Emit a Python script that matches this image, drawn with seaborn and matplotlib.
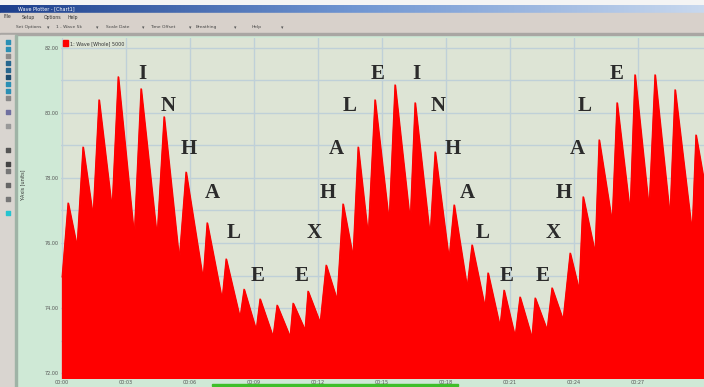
import numpy as np
import pandas as pd
import seaborn as sns
import matplotlib.pyplot as plt
from matplotlib.patches import Rectangle

# breathing wave vertices (seconds, units)
time_s = [0.00, 0.28, 0.70, 0.98, 1.45, 1.73, 2.34, 2.63, 3.38, 3.70,
          4.45, 4.78, 5.49, 5.81, 6.61, 6.80, 7.50, 7.69, 8.34, 8.53,
          9.10, 9.28, 9.89, 10.08, 10.69, 10.83, 11.39, 11.53, 12.10, 12.38,
          12.89, 13.17, 13.64, 13.88, 14.35, 14.67, 15.33, 15.61, 16.32, 16.55,
          17.25, 17.49, 18.14, 18.38, 18.99, 19.22, 19.83, 19.97, 20.53, 20.72,
          21.24, 21.47, 22.03, 22.18, 22.74, 22.97, 23.49, 23.82, 24.24, 24.43,
          24.99, 25.18, 25.79, 26.02, 26.63, 26.86, 27.52, 27.80, 28.50, 28.74,
          29.54, 29.72, 30.10]
wave = [74.95, 77.23, 75.88, 78.95, 76.80, 80.40, 77.02, 81.11, 76.18, 80.74,
        76.15, 79.88, 75.48, 78.18, 74.86, 76.62, 74.25, 75.51, 73.69, 74.58,
        73.32, 74.28, 73.11, 74.09, 73.11, 74.15, 73.32, 74.52, 73.54, 75.32,
        74.25, 77.20, 75.57, 78.95, 76.18, 80.40, 76.62, 80.86, 76.62, 80.31,
        76.18, 78.80, 75.48, 77.17, 74.62, 75.94, 74.00, 75.08, 73.42, 74.55,
        73.11, 74.34, 73.08, 74.31, 73.32, 74.62, 73.63, 75.69, 74.55, 77.42,
        75.69, 79.17, 76.62, 80.31, 76.92, 81.17, 77.02, 81.17, 76.80, 80.71,
        76.31, 79.32, 77.90]

# annotation letters
letters = list("INHALEEXHALEINHALEEXHALE")
letter_t = [3.75, 4.97, 5.95, 7.03, 8.06, 9.19, 11.25, 11.81, 12.47, 12.85, 13.50, 14.81,
            16.60, 17.63, 18.33, 18.99, 19.74, 20.82, 22.55, 23.02, 23.53, 24.14, 24.52, 26.02]
letter_v = [81.20, 80.20, 78.90, 77.54, 76.31, 74.98, 74.98, 76.31, 77.54, 78.90, 80.20, 81.20,
            81.20, 80.20, 78.90, 77.54, 76.31, 74.98, 74.98, 76.31, 77.54, 78.90, 80.20, 81.20]

x_ticks = [0, 3, 6, 9, 12, 15, 18, 21, 24, 27]
x_labels = ['00:00', '00:03', '00:06', '00:09', '00:12', '00:15', '00:18', '00:21', '00:24', '00:27']
y_ticks = [72, 74, 76, 78, 80, 82]
y_labels = ['72.00', '74.00', '76.00', '78.00', '80.00', '82.00']

menu_items = ['File', 'Setup', 'Options', 'Help']
tool_items = ['Set Options', '1 - Wave 5k', 'Scale Date', 'Time Offset', 'Breathing', 'Help']

df = pd.DataFrame({'time': time_s, 'wave': wave})

sns.set_style('white')
W, H = 704, 387
fig = plt.figure(figsize=(W / 100, H / 100), dpi=100)

# --- window chrome drawn in pixel space ---
bg = fig.add_axes([0, 0, 1, 1], zorder=-1)
bg.set_xlim(0, W)
bg.set_ylim(H, 0)
bg.axis('off')
bg.add_patch(Rectangle((0, 0), W, H, color='#cfe9d6'))
bg.add_patch(Rectangle((0, 0), W, 5, color='#f4f4f4'))
grad = np.linspace(0, 1, 256).reshape(1, -1)
bg.imshow(grad, extent=(0, W, 13, 5), cmap=sns.blend_palette(['#1d3f8c', '#6f95d2', '#c8d8ee'], as_cmap=True),
          aspect='auto', zorder=1)
bg.add_patch(Rectangle((0, 13), W, 20, color='#d8d1cb', zorder=1))
bg.add_patch(Rectangle((0, 33), W, 2, color='#a9a6a3', zorder=1))
bg.add_patch(Rectangle((0, 35), 15, H - 35, color='#d9d5d0', zorder=1))
bg.add_patch(Rectangle((15, 35), 2, H - 35, color='#9fb3a6', zorder=1))
bg.add_patch(Rectangle((212, 384), 246, 2, color='#3fbf2a', zorder=2))
bg.text(18, 9, 'Wave Plotter - [Chart1]', color='white', fontsize=3.5, va='center', zorder=3)
for xm, name in zip([4, 22, 44, 68], menu_items):
    bg.text(xm, 17, name, fontsize=3.3, va='center', color='#333333', zorder=3)
for xm, xa, name in zip([16, 56, 106, 150, 196, 252], [47, 96, 142, 189, 234, 281], tool_items):
    bg.text(xm, 27, name, fontsize=3.2, va='center', color='#444444', zorder=3)
    bg.text(xa, 28, '\u25be', fontsize=3.5, va='center', color='#555555', zorder=3)
icon_y = [42, 49, 56, 63, 70, 77, 84, 91, 98, 112, 126, 150, 164, 171, 185, 199, 213]
icon_c = ['#2a8fb4', '#2a8fb4', '#8a8a8a', '#26678f', '#26678f', '#1d4e70', '#2a8fb4', '#2a8fb4',
          '#888888', '#7070a0', '#999999', '#555555', '#444444', '#777777', '#666666', '#777777', '#26c4d0']
bg.scatter([8] * len(icon_y), icon_y, s=6, c=icon_c, marker='s', zorder=3)
bg.text(23, 185, 'Y-Axis [units]', rotation=90, fontsize=3.5, va='center', ha='center',
        color='#333333', zorder=3)

# --- chart ---
ax = fig.add_axes([61 / W, 1 - 378 / H, 1 - 61 / W, 340 / H])
ax.set_facecolor('#dde4d5')
sns.lineplot(data=df, x='time', y='wave', ax=ax, color='#ff0000', linewidth=0.8, zorder=3)
ax.fill_between(df['time'], df['wave'], 71.0, color='#ff0000', zorder=3,
                label='1: Wave [Whole] 5000')

ax.set_xlim(-0.05, 30.1)
ax.set_ylim(71.85, 82.3)
ax.set_xticks(x_ticks)
ax.set_xticklabels(x_labels)
ax.set_yticks(y_ticks)
ax.set_yticklabels(y_labels)
ax.set_yticks(np.arange(72, 83, 1), minor=True)
ax.grid(True, which='both', color='#bfd0d8', linewidth=1.0, zorder=0)
ax.set_axisbelow(True)
ax.tick_params(axis='both', labelsize=3.5, length=0, pad=1.5, colors='#555555')
ax.set_xlabel('')
ax.set_ylabel('')
for s in ax.spines.values():
    s.set_visible(False)

for ch, tx, ty in zip(letters, letter_t, letter_v):
    ax.text(tx, ty, ch, ha='center', va='center', fontsize=15, fontweight='bold',
            family='Liberation Serif', color='#2b2b2b', zorder=5)

leg = ax.legend(loc='upper left', frameon=False, fontsize=3.5, handlelength=0.9, handleheight=1.4,
                borderaxespad=0.1, handletextpad=0.5)
for t in leg.get_texts():
    t.set_color('#333333')

fig.savefig('out.png', dpi=100)
